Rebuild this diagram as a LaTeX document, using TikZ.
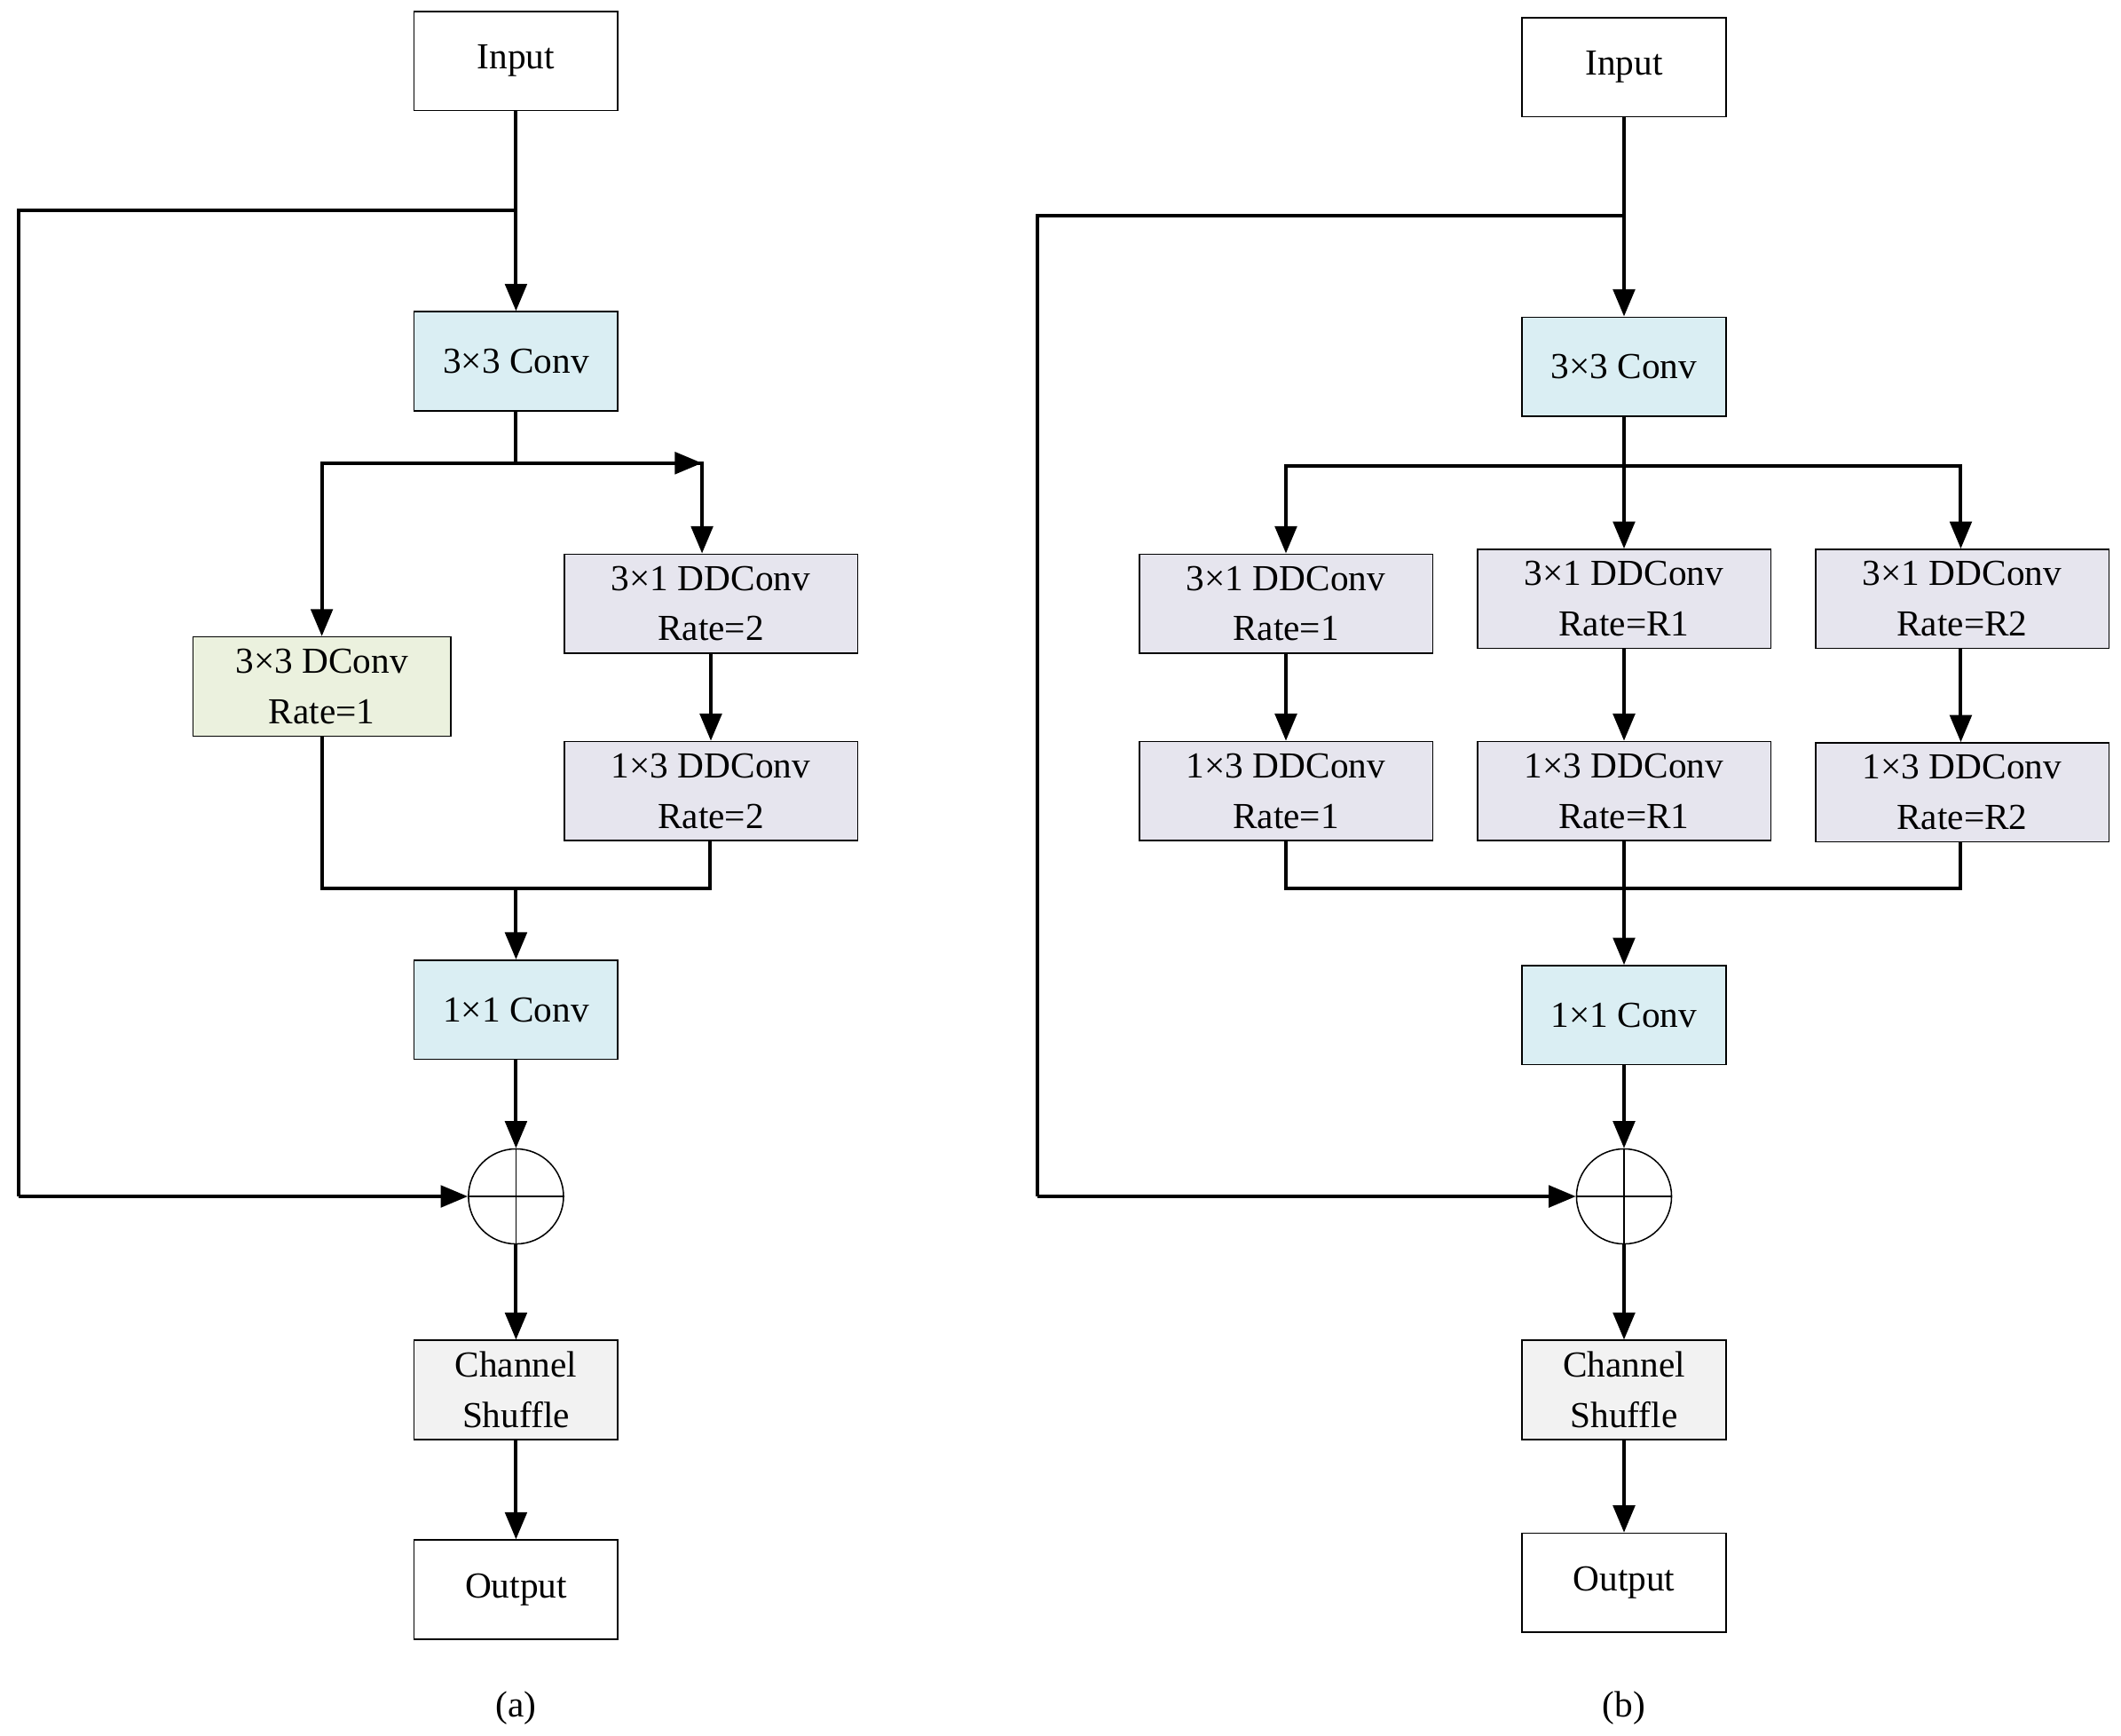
\documentclass[tikz,border=0pt]{standalone}
\usepackage{fontspec}
\setmainfont{Liberation Serif}
\usetikzlibrary{arrows.meta}
\definecolor{cblue}{HTML}{DAEEF3}
\definecolor{cgreen}{HTML}{EBF1DE}
\definecolor{clav}{HTML}{E6E5EE}
\definecolor{cgray}{HTML}{F2F2F2}
\begin{document}
\begin{tikzpicture}[x=1pt,y=-1pt,
 box/.style={draw,line width=1pt,minimum width=150pt,minimum height=73pt,align=center,inner sep=0pt,font=\fontsize{27}{37}\selectfont},
 wbox/.style={box,minimum width=216pt,fill=clav},
 ln/.style={line width=2.6pt},
 ar/.style={ln,-{Triangle[length=20pt,width=16pt]}},
 sum/.style={draw,circle,line width=1pt,minimum size=70pt,inner sep=0pt}]
\useasboundingbox (0,0) rectangle (1562,1278);
% (a)
\node[box] (ai) at (380,45) {Input};
\node[box,fill=cblue] (ac) at (380,266) {3×3 Conv};
\node[box,minimum width=190pt,fill=cgreen] (ad) at (237,505.5) {3×3 DConv\\Rate=1};
\node[wbox] (ae) at (523.5,444.5) {3×1 DDConv\\Rate=2};
\node[wbox] (af) at (523.5,582.5) {1×3 DDConv\\Rate=2};
\node[box,fill=cblue] (ag) at (380,743.5) {1×1 Conv};
\node[sum] (as) at (380,881) {};
\draw[line width=1pt] (as.north)--(as.south) (as.west)--(as.east);
\node[box,fill=cgray] (ah) at (380,1023.5) {Channel\\Shuffle};
\node[box] (ao) at (380,1170.5) {Output};
\node[font=\fontsize{27}{30}\selectfont] (la) at (380,1258) {(a)};
\coordinate (a1) at (380,155); \coordinate (a2) at (14,155); \coordinate (a3) at (14,881);
\coordinate (s1) at (380,341); \coordinate (s2) at (237,341); \coordinate (s3) at (517,341);
\coordinate (m1) at (237,654); \coordinate (m2) at (523,654); \coordinate (m3) at (380,654);
\draw[ar] (ai)--(ac);
\draw[ln] (a1)--(a2)--(a3);
\draw[ar] (a3)--(as.west);
\draw[ln] (ac)--(s1);
\draw[ar] (s2)--(s3|-s2) ;
\draw[ar] (s1)--(s2)--(ad.north);
\draw[ar] (s1)--(s3)--(ae.north-|s3);
\draw[ar] (ae)--(af);
\draw[ln] (ad.south)--(m1)--(m2)--(af.south-|m2);
\draw[ar] (m3)--(ag);
\draw[ar] (ag)--(as);
\draw[ar] (as)--(ah);
\draw[ar] (ah)--(ao);
% (b)
\node[box] (bi) at (1196,49.5) {Input};
\node[box,fill=cblue] (bc) at (1196,270) {3×3 Conv};
\node[wbox] (b1) at (947,444.5) {3×1 DDConv\\Rate=1};
\node[wbox] (b2) at (1196,441) {3×1 DDConv\\Rate=R1};
\node[wbox] (b3) at (1445,441) {3×1 DDConv\\Rate=R2};
\node[wbox] (b4) at (947,582.5) {1×3 DDConv\\Rate=1};
\node[wbox] (b5) at (1196,582.5) {1×3 DDConv\\Rate=R1};
\node[wbox] (b6) at (1445,583.5) {1×3 DDConv\\Rate=R2};
\node[box,fill=cblue] (bg) at (1196,747.5) {1×1 Conv};
\node[sum] (bs) at (1196,881) {};
\draw[line width=1pt] (bs.north)--(bs.south) (bs.west)--(bs.east);
\node[box,fill=cgray] (bh) at (1196,1023.5) {Channel\\Shuffle};
\node[box] (bo) at (1196,1165.5) {Output};
\node[font=\fontsize{27}{30}\selectfont] (lb) at (1196,1258) {(b)};
\coordinate (c1) at (1196,159); \coordinate (c2) at (764,159); \coordinate (c3) at (764,881);
\coordinate (t1) at (1196,343); \coordinate (t2) at (947,343); \coordinate (t3) at (1444,343);
\coordinate (n1) at (947,654); \coordinate (n2) at (1444,654); \coordinate (n3) at (1196,654);
\draw[ar] (bi)--(bc);
\draw[ln] (c1)--(c2)--(c3);
\draw[ar] (c3)--(bs.west);
\draw[ar] (bc)--(b2);
\draw[ar] (t1)--(t2)--(b1.north);
\draw[ar] (t1)--(t3)--(b3.north-|t3);
\draw[ar] (b1)--(b4);
\draw[ar] (b2)--(b5);
\draw[ar] (b3.south-|t3)--(b6.north-|t3);
\draw[ln] (b4.south)--(n1)--(n2)--(b6.south-|n2);
\draw[ar] (b5)--(bg);
\draw[ar] (bg)--(bs);
\draw[ar] (bs)--(bh);
\draw[ar] (bh)--(bo);
\end{tikzpicture}
\end{document}
